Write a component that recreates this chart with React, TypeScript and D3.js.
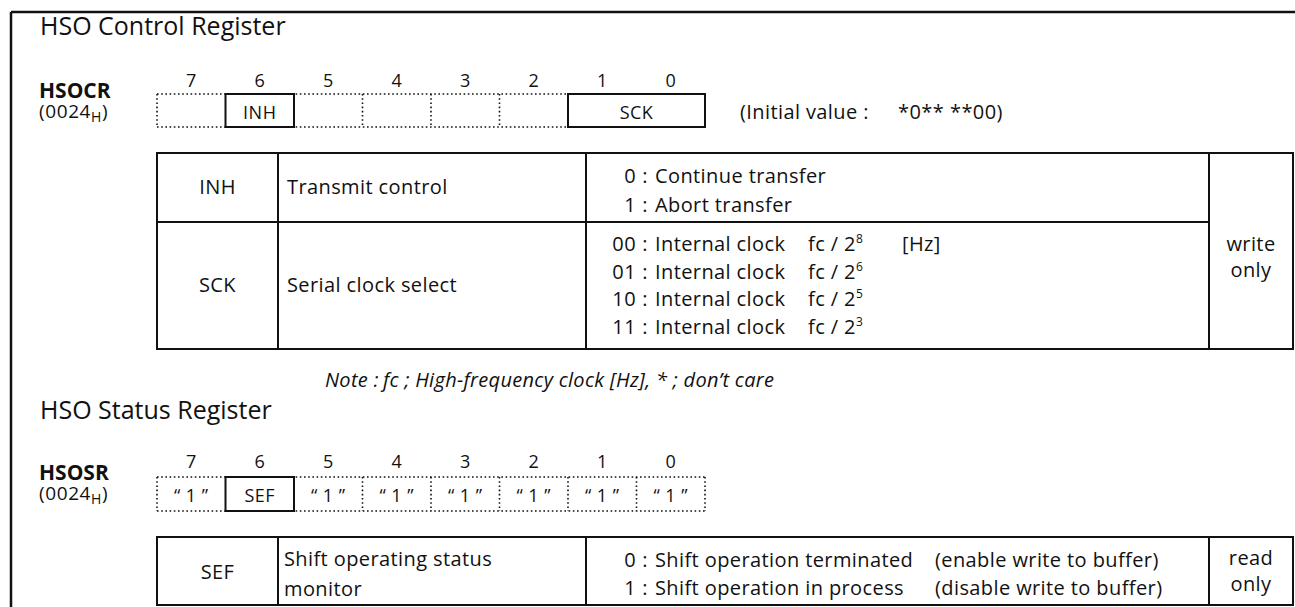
import * as d3 from "d3";

// ---- data ----
const bitNumbers = [7, 6, 5, 4, 3, 2, 1, 0];

const ONE = "\u201C 1 \u201D";

const hsocrFields = [
  { label: "", reserved: true, hi: 7, lo: 7 },
  { label: "INH", reserved: false, hi: 6, lo: 6 },
  { label: "", reserved: true, hi: 5, lo: 5 },
  { label: "", reserved: true, hi: 4, lo: 4 },
  { label: "", reserved: true, hi: 3, lo: 3 },
  { label: "", reserved: true, hi: 2, lo: 2 },
  { label: "SCK", reserved: false, hi: 1, lo: 0 },
];

const hsosrFields = [
  { label: ONE, reserved: true, hi: 7, lo: 7 },
  { label: "SEF", reserved: false, hi: 6, lo: 6 },
  { label: ONE, reserved: true, hi: 5, lo: 5 },
  { label: ONE, reserved: true, hi: 4, lo: 4 },
  { label: ONE, reserved: true, hi: 3, lo: 3 },
  { label: ONE, reserved: true, hi: 2, lo: 2 },
  { label: ONE, reserved: true, hi: 1, lo: 1 },
  { label: ONE, reserved: true, hi: 0, lo: 0 },
];

const inhValues = [
  { code: "0", text: "Continue transfer" },
  { code: "1", text: "Abort transfer" },
];

const sckValues = [
  { code: "00", text: "Internal clock", exp: "8", unit: "[Hz]" },
  { code: "01", text: "Internal clock", exp: "6", unit: "" },
  { code: "10", text: "Internal clock", exp: "5", unit: "" },
  { code: "11", text: "Internal clock", exp: "3", unit: "" },
];

const sefValues = [
  { code: "0", text: "Shift operation terminated", note: "(enable write to buffer)" },
  { code: "1", text: "Shift operation in process", note: "(disable write to buffer)" },
];

const W = 1295;
const H = 607;
const FONT = "'Open Sans', 'Noto Sans', sans-serif";
const INK = "#111";
const BODY = 20; // table text size
const LS = 0.4; // slight tracking, the original face runs wide

// bit cells share one band scale for both registers
const bitX = d3.scaleBand<number>().domain(bitNumbers).range([157, 705]).paddingInner(0);

// table column edges
const col = { left: 157, name: 278, desc: 586, access: 1209, right: 1293 };

type Field = { label: string; reserved: boolean; hi: number; lo: number };

function BitRow({ y0, y1, numY, fields }: { y0: number; y1: number; numY: number; fields: Field[] }) {
  const x0 = bitX(7)!;
  const x1 = bitX(0)! + bitX.bandwidth();
  const dots = { stroke: INK, strokeWidth: 1.6, strokeDasharray: "1.6,2.6", fill: "none" };
  const textY = (y0 + y1) / 2 + 8;
  return (
    <g>
      {bitNumbers.map((b) => (
        <text key={b} x={bitX(b)! + bitX.bandwidth() / 2} y={numY} textAnchor="middle" fontSize={18}>
          {b}
        </text>
      ))}
      <line x1={x0} x2={x1} y1={y0} y2={y0} {...dots} />
      <line x1={x0} x2={x1} y1={y1} y2={y1} {...dots} />
      {fields.map((f, i) => {
        const fx0 = bitX(f.hi)!;
        const fx1 = bitX(f.lo)! + bitX.bandwidth();
        return f.reserved ? (
          <g key={i}>
            <line x1={fx0} x2={fx0} y1={y0} y2={y1} {...dots} />
            {f.lo === 0 && <line x1={fx1} x2={fx1} y1={y0} y2={y1} {...dots} />}
          </g>
        ) : null;
      })}
      {fields.map((f, i) => {
        if (f.reserved && !f.label) return null;
        const fx0 = bitX(f.hi)!;
        const fx1 = bitX(f.lo)! + bitX.bandwidth();
        return (
          <g key={"f" + i}>
            {!f.reserved && (
              <rect x={fx0} y={y0} width={fx1 - fx0} height={y1 - y0} fill="#fff" stroke={INK} strokeWidth={2} />
            )}
            {!f.reserved && f.hi !== f.lo &&
              d3.range(f.lo + 1, f.hi + 1).map((b) => (
                <line key={b} x1={bitX(b)!} x2={bitX(b)!} y1={y1 - 7} y2={y1} stroke={INK} strokeWidth={1.5} />
              ))}
            <text x={(fx0 + fx1) / 2} y={textY} textAnchor="middle" fontSize={18} letterSpacing={0.5}>
              {f.label}
            </text>
          </g>
        );
      })}
    </g>
  );
}

function Addr({ y, name }: { y: number; name: string }) {
  return (
    <g>
      <text x={39} y={y} fontSize={21} fontWeight={700}>
        {name}
      </text>
      <text x={39} y={y + 20} fontSize={19} letterSpacing={0.6}>
        (0024
        <tspan fontSize={14} dy={4}>H</tspan>
        <tspan dy={-4}>)</tspan>
      </text>
    </g>
  );
}

function Codes({ rows, y0, step, children }: any) {
  return (
    <g fontSize={BODY} letterSpacing={LS}>
      {rows.map((r: any, i: number) => (
        <g key={i}>
          <text x={636} y={y0 + i * step} textAnchor="end">{r.code}</text>
          <text x={645} y={y0 + i * step} textAnchor="middle">:</text>
          <text x={655} y={y0 + i * step}>{r.text}</text>
          {children && children(r, y0 + i * step)}
        </g>
      ))}
    </g>
  );
}

export default function App() {
  const line = { stroke: INK, strokeWidth: 2 };
  const t1 = { top: 153, mid: 222, bottom: 349 };
  const t2 = { top: 537, bottom: 605 };
  const accessX = (col.access + col.right) / 2;
  const nameX = (col.left + col.name) / 2;
  return (
    <svg
      width={W}
      height={H}
      style={{ position: "absolute", left: 0, top: 0, background: "#fff" }}
      fontFamily={FONT}
      fill={INK}
    >
      <rect width={W} height={H} fill="#fff" />
      {/* outer frame */}
      <line x1={11} x2={W} y1={12} y2={12} stroke={INK} strokeWidth={2.5} />
      <line x1={11} x2={11} y1={12} y2={H} stroke={INK} strokeWidth={2.5} />

      {/* ---- HSO Control Register ---- */}
      <text x={40} y={35} fontSize={25}>HSO Control Register</text>
      <Addr y={98} name="HSOCR" />
      <BitRow y0={94} y1={127} numY={87} fields={hsocrFields} />
      <g fontSize={BODY} letterSpacing={LS}>
        <text x={740} y={119}>(Initial value :</text>
        <text x={898} y={119}>*0**</text>
        <text x={950} y={119}>**00)</text>
      </g>

      <g>
        <rect x={col.left} y={t1.top} width={col.right - col.left} height={t1.bottom - t1.top} fill="none" {...line} />
        <line x1={col.name} x2={col.name} y1={t1.top} y2={t1.bottom} {...line} />
        <line x1={col.desc} x2={col.desc} y1={t1.top} y2={t1.bottom} {...line} />
        <line x1={col.access} x2={col.access} y1={t1.top} y2={t1.bottom} {...line} />
        <line x1={col.left} x2={col.access} y1={t1.mid} y2={t1.mid} {...line} />
        <g fontSize={BODY} letterSpacing={LS}>
          <text x={nameX} y={194} textAnchor="middle">INH</text>
          <text x={287} y={194}>Transmit control</text>
          <text x={nameX} y={292} textAnchor="middle">SCK</text>
          <text x={287} y={292}>Serial clock select</text>
          <text x={accessX} y={251} textAnchor="middle">write</text>
          <text x={accessX} y={277} textAnchor="middle">only</text>
        </g>
        <Codes rows={inhValues} y0={183} step={29} />
        <Codes rows={sckValues} y0={251} step={27.7}>
          {(r: any, y: number) => (
            <g>
              <text x={808} y={y}>
                fc / 2<tspan fontSize={12} dy={-8}>{r.exp}</tspan>
              </text>
              {r.unit && <text x={902} y={y}>{r.unit}</text>}
            </g>
          )}
        </Codes>
      </g>

      <g fontSize={20} fontStyle="italic" letterSpacing={0.3}>
        <text x={325} y={387}>Note :</text>
        <text x={383} y={387}>fc ; High-frequency clock [Hz], * ; don’t care</text>
      </g>

      {/* ---- HSO Status Register ---- */}
      <text x={40} y={419} fontSize={25}>HSO Status Register</text>
      <Addr y={480} name="HSOSR" />
      <BitRow y0={477} y1={511} numY={468} fields={hsosrFields} />

      <g>
        <rect x={col.left} y={t2.top} width={col.right - col.left} height={t2.bottom - t2.top} fill="none" {...line} />
        <line x1={col.name} x2={col.name} y1={t2.top} y2={t2.bottom} {...line} />
        <line x1={col.desc} x2={col.desc} y1={t2.top} y2={t2.bottom} {...line} />
        <line x1={col.access} x2={col.access} y1={t2.top} y2={t2.bottom} {...line} />
        <g fontSize={BODY} letterSpacing={LS}>
          <text x={nameX} y={579} textAnchor="middle">SEF</text>
          <text x={284} y={566}>Shift operating status</text>
          <text x={284} y={596}>monitor</text>
          <text x={accessX} y={565} textAnchor="middle">read</text>
          <text x={accessX} y={591} textAnchor="middle">only</text>
        </g>
        <Codes rows={sefValues} y0={567} step={28}>
          {(r: any, y: number) => <text x={935} y={y}>{r.note}</text>}
        </Codes>
      </g>
    </svg>
  );
}
